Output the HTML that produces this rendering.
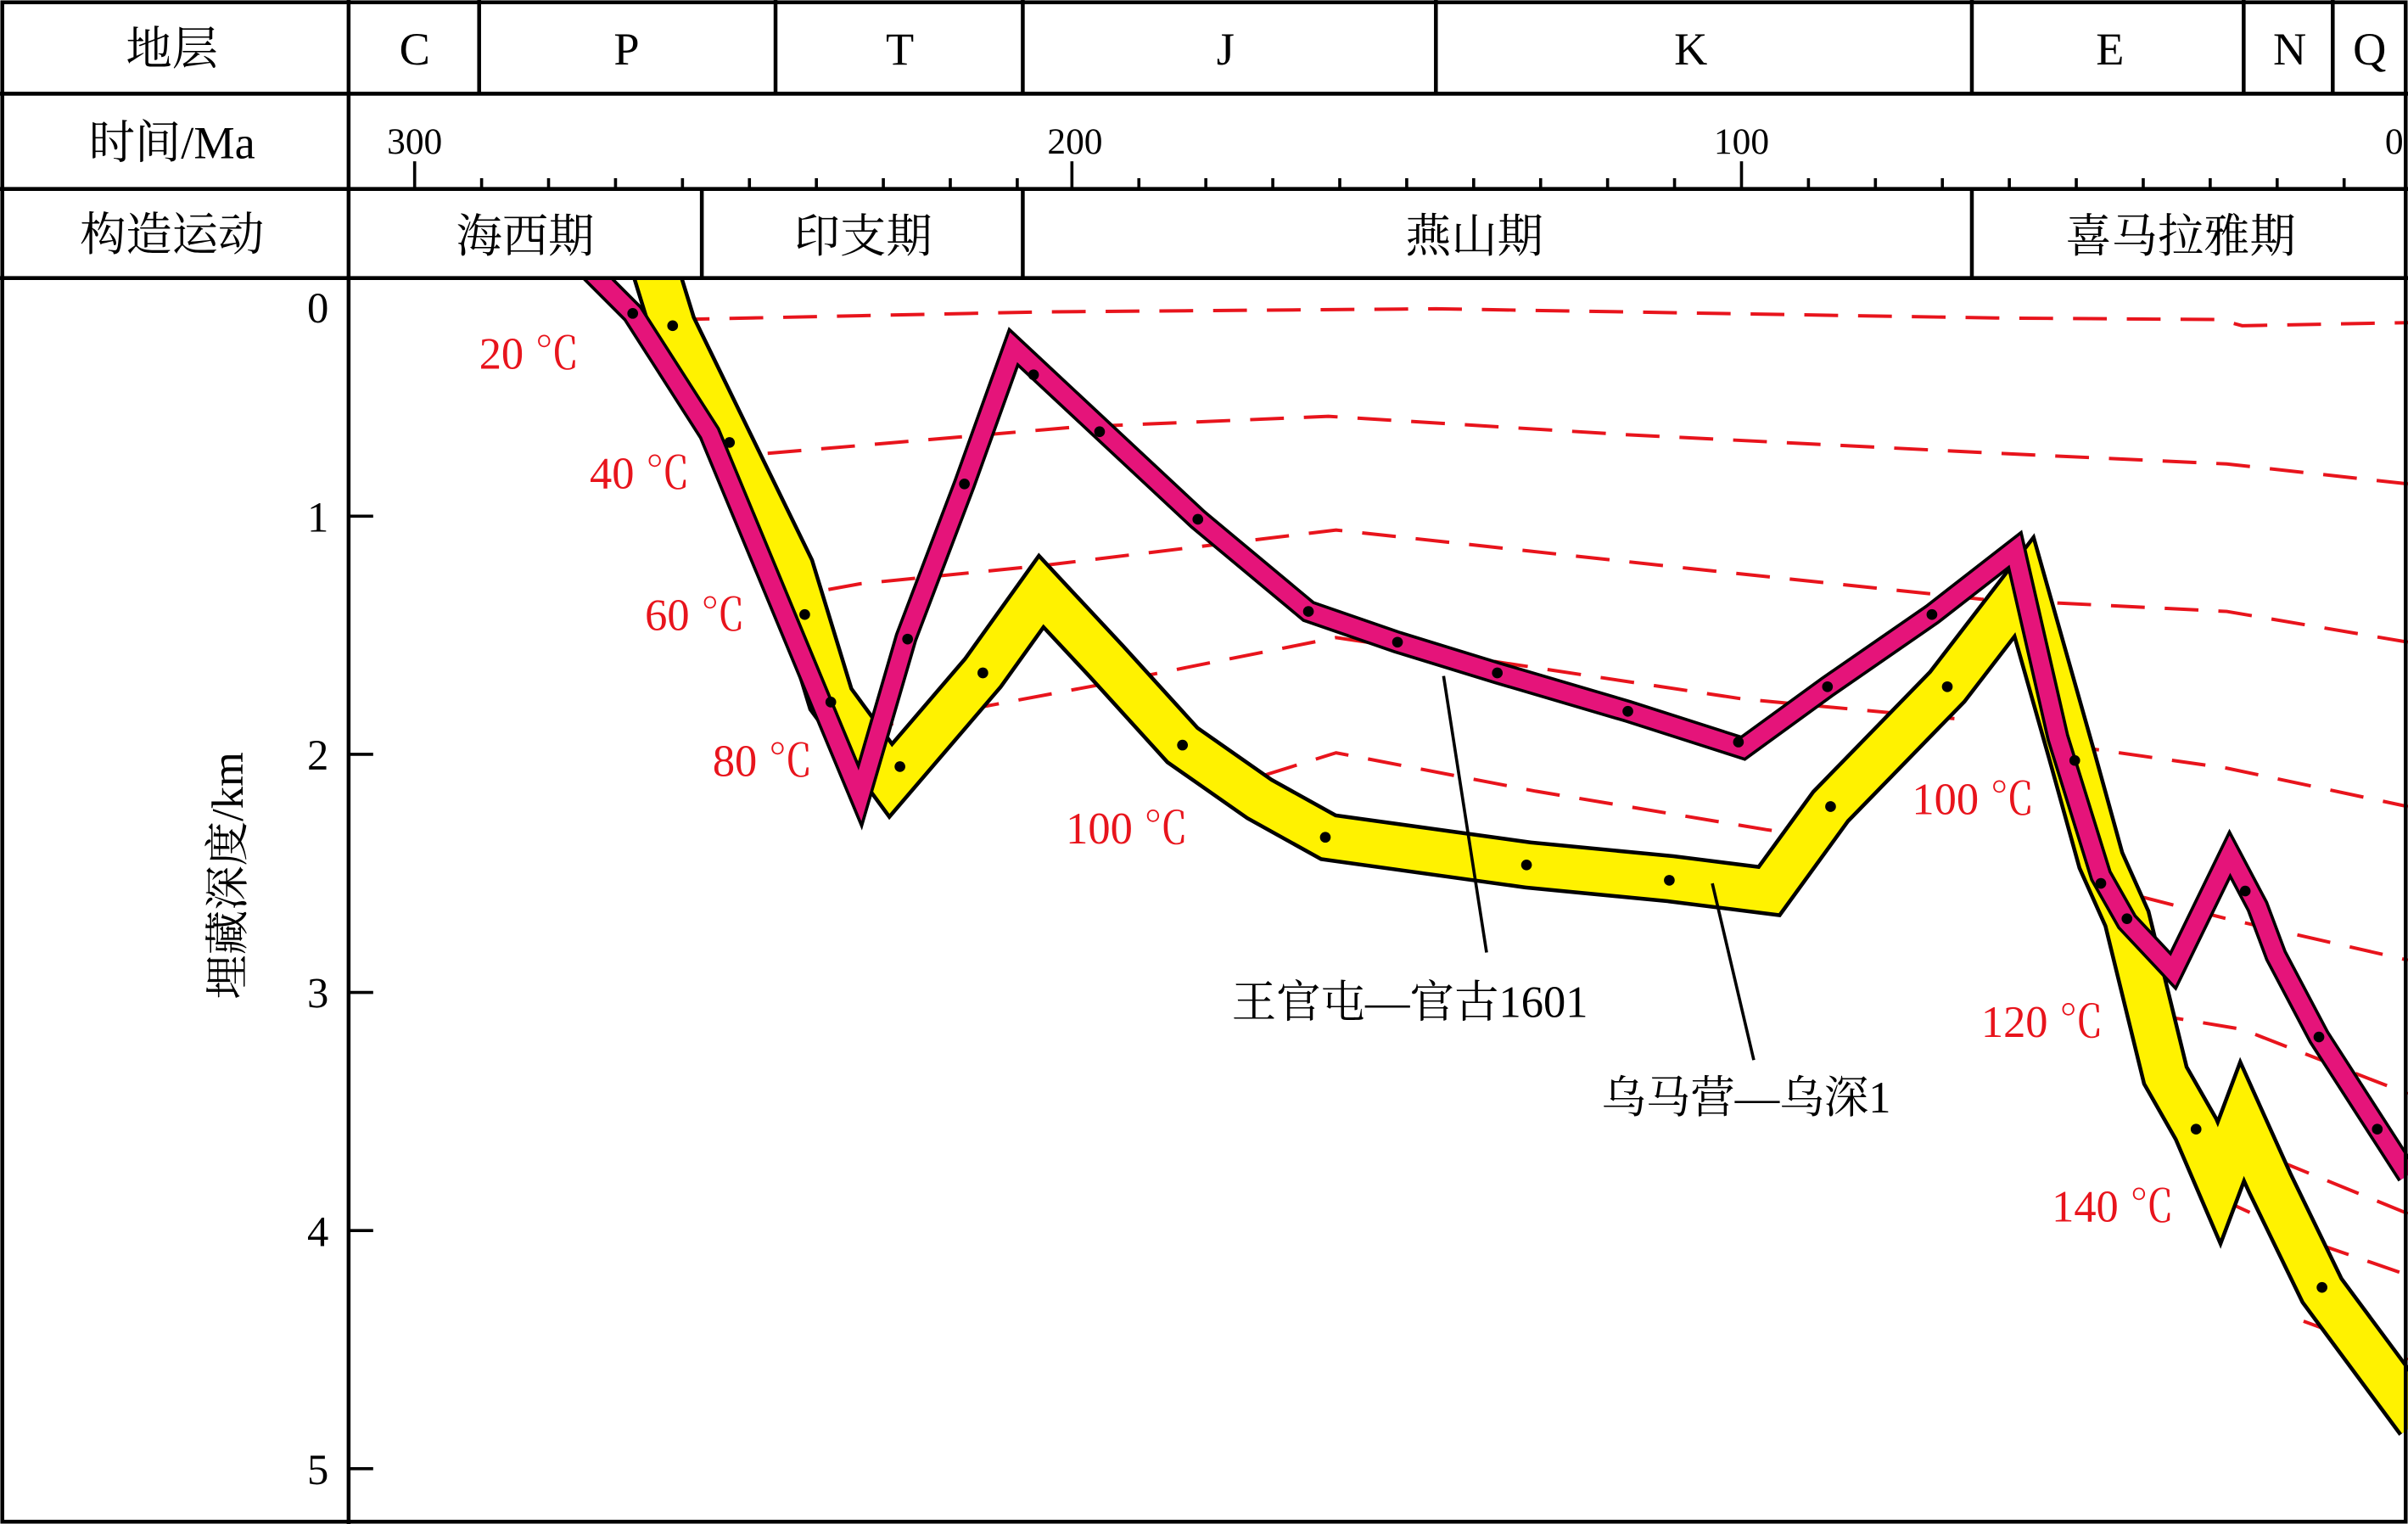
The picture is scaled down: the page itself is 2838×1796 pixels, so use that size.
<!DOCTYPE html>
<html><head><meta charset="utf-8"><style>
html,body{margin:0;padding:0;background:#fff;}
svg{display:block;}
.h{font-family:"Liberation Serif","Noto Serif CJK SC",serif;font-size:30px;fill:#000;text-anchor:middle;}
.t{font-family:"Liberation Serif",serif;font-size:24px;fill:#000;text-anchor:middle;}
.r{font-family:"Liberation Serif","Noto Serif CJK SC",serif;font-size:29px;fill:#e8141c;}
.iso{fill:none;stroke:#e8141c;stroke-width:2.2;stroke-dasharray:22,13;}
</style></head><body>
<svg width="2838" height="1796" viewBox="0 0 1568 992" preserveAspectRatio="none" xmlns="http://www.w3.org/2000/svg">
<rect x="0" y="0" width="1568" height="992" fill="#fff"/>
<polyline class="iso" points="440,208 680,203 935,201 1300,207 1445,208 1460,212 1568,210"/>
<polyline class="iso" points="465,298 560,290 700,278 865,271 1060,283 1300,295 1450,302 1568,315"/>
<polyline class="iso" points="505,390 560,380 680,368 870,345 1100,370 1290,390 1450,398 1568,418"/>
<polyline class="iso" points="560,475 720,445 870,415 1135,455 1275,468"/>
<polyline class="iso" points="1345,485 1450,500 1568,525"/>
<polyline class="iso" points="790,515 870,490 1000,515 1150,540 1185,545"/>
<polyline class="iso" points="1360,575 1450,598 1568,625"/>
<polyline class="iso" points="1400,660 1460,670 1568,712"/>
<polyline class="iso" points="1420,725 1470,750 1568,790"/>
<polyline class="iso" points="1445,780 1510,810 1568,830"/>
<polyline class="iso" points="1500,860 1568,885"/>
<g fill="none" stroke-linejoin="miter" stroke-miterlimit="3.5">
<polyline stroke="#000" stroke-width="32" points="425,170 438,212 475,288 515,370 541,455 580,508 640,438 678,385 720,430 770,485 820,520 865,545 995,563 1088,572 1152,580 1192,525 1268,447 1318,382 1350,495 1368,560 1385,598 1410,700 1430,735 1445,770 1460,730 1478,770 1512,840 1575,925"/>
<polyline stroke="#fff200" stroke-width="27" points="425,170 438,212 475,288 515,370 541,455 580,508 640,438 678,385 720,430 770,485 820,520 865,545 995,563 1088,572 1152,580 1192,525 1268,447 1318,382 1350,495 1368,560 1385,598 1410,700 1430,735 1445,770 1460,730 1478,770 1512,840 1575,925"/>
<polyline stroke="#000" stroke-width="15" points="380,172 412,204 462,282 540,470 560,518 590,415 628,315 660,226 780,338 852,398 910,418 975,438 1060,463 1135,487 1190,447 1258,400 1312,358 1340,480 1368,570 1385,600 1415,632 1452,556 1470,590 1482,622 1510,675 1568,765"/>
<polyline stroke="#e5147a" stroke-width="11" points="380,172 412,204 462,282 540,470 560,518 590,415 628,315 660,226 780,338 852,398 910,418 975,438 1060,463 1135,487 1190,447 1258,400 1312,358 1340,480 1368,570 1385,600 1415,632 1452,556 1470,590 1482,622 1510,675 1568,765"/>
</g>
<g fill="#000">
<circle cx="412" cy="204" r="3.5"/><circle cx="438" cy="212" r="3.5"/><circle cx="475" cy="288" r="3.5"/><circle cx="524" cy="400" r="3.5"/><circle cx="541" cy="457" r="3.5"/><circle cx="586" cy="499" r="3.5"/><circle cx="591" cy="416" r="3.5"/><circle cx="628" cy="315" r="3.5"/><circle cx="640" cy="438" r="3.5"/><circle cx="673" cy="244" r="3.5"/><circle cx="716" cy="281" r="3.5"/><circle cx="780" cy="338" r="3.5"/><circle cx="770" cy="485" r="3.5"/><circle cx="852" cy="398" r="3.5"/><circle cx="863" cy="545" r="3.5"/><circle cx="910" cy="418" r="3.5"/><circle cx="975" cy="438" r="3.5"/><circle cx="994" cy="563" r="3.5"/><circle cx="1060" cy="463" r="3.5"/><circle cx="1087" cy="573" r="3.5"/><circle cx="1132" cy="483" r="3.5"/><circle cx="1190" cy="447" r="3.5"/><circle cx="1192" cy="525" r="3.5"/><circle cx="1258" cy="400" r="3.5"/><circle cx="1268" cy="447" r="3.5"/><circle cx="1351" cy="495" r="3.5"/><circle cx="1368" cy="575" r="3.5"/><circle cx="1385" cy="598" r="3.5"/><circle cx="1430" cy="735" r="3.5"/><circle cx="1462" cy="580" r="3.5"/><circle cx="1510" cy="675" r="3.5"/><circle cx="1512" cy="838" r="3.5"/><circle cx="1548" cy="735" r="3.5"/>
</g>
<text class="r" x="312" y="240">20 ℃</text>
<text class="r" x="384" y="318">40 ℃</text>
<text class="r" x="420" y="410">60 ℃</text>
<text class="r" x="464" y="505">80 ℃</text>
<text class="r" x="694" y="549">100 ℃</text>
<text class="r" x="1245" y="530">100 ℃</text>
<text class="r" x="1290" y="675">120 ℃</text>
<text class="r" x="1336" y="795">140 ℃</text>
<line x1="940" y1="440" x2="968" y2="620" stroke="#000" stroke-width="2"/>
<line x1="1115" y1="575" x2="1142" y2="690" stroke="#000" stroke-width="2"/>
<text class="h" x="918" y="662" style="font-size:29px">王官屯—官古1601</text>
<text class="h" x="1137" y="724" style="font-size:29px">乌马营—乌深1</text>
<text class="h" transform="translate(158,570) rotate(-90)" style="font-size:29px">埋藏深度/km</text>
<g stroke="#000" stroke-width="2">
<line x1="227" y1="336" x2="243" y2="336"/><line x1="227" y1="491" x2="243" y2="491"/><line x1="227" y1="646" x2="243" y2="646"/><line x1="227" y1="801" x2="243" y2="801"/><line x1="227" y1="956" x2="243" y2="956"/>
</g>
<g class="h" style="font-size:28px">
<text x="207" y="210">0</text><text x="207" y="346">1</text><text x="207" y="501">2</text><text x="207" y="656">3</text><text x="207" y="811">4</text><text x="207" y="966">5</text>
</g>
<rect x="227" y="0" width="1341" height="181" fill="#fff"/>
<g stroke="#000" stroke-width="2.5" fill="none">
<rect x="1.5" y="1.5" width="1565" height="989"/>
<line x1="0" y1="61" x2="1568" y2="61"/><line x1="0" y1="123" x2="1568" y2="123"/><line x1="0" y1="181" x2="1568" y2="181"/>
<line x1="227" y1="0" x2="227" y2="992"/>
<line x1="312" y1="0" x2="312" y2="61"/><line x1="505" y1="0" x2="505" y2="61"/><line x1="666" y1="0" x2="666" y2="61"/><line x1="935" y1="0" x2="935" y2="61"/><line x1="1284" y1="0" x2="1284" y2="61"/><line x1="1461" y1="0" x2="1461" y2="61"/><line x1="1519" y1="0" x2="1519" y2="61"/>
<line x1="457" y1="123" x2="457" y2="181"/><line x1="666" y1="123" x2="666" y2="181"/><line x1="1284" y1="123" x2="1284" y2="181"/>
</g>
<g stroke="#000" stroke-width="2">
<line x1="270" y1="105" x2="270" y2="123"/><line x1="698" y1="105" x2="698" y2="123"/><line x1="1134" y1="105" x2="1134" y2="123"/>
<line x1="313.6" y1="116" x2="313.6" y2="123"/><line x1="357.2" y1="116" x2="357.2" y2="123"/><line x1="400.8" y1="116" x2="400.8" y2="123"/><line x1="444.4" y1="116" x2="444.4" y2="123"/><line x1="488" y1="116" x2="488" y2="123"/><line x1="531.6" y1="116" x2="531.6" y2="123"/><line x1="575.2" y1="116" x2="575.2" y2="123"/><line x1="618.8" y1="116" x2="618.8" y2="123"/><line x1="662.4" y1="116" x2="662.4" y2="123"/>
<line x1="741.6" y1="116" x2="741.6" y2="123"/><line x1="785.2" y1="116" x2="785.2" y2="123"/><line x1="828.8" y1="116" x2="828.8" y2="123"/><line x1="872.4" y1="116" x2="872.4" y2="123"/><line x1="916" y1="116" x2="916" y2="123"/><line x1="959.6" y1="116" x2="959.6" y2="123"/><line x1="1003.2" y1="116" x2="1003.2" y2="123"/><line x1="1046.8" y1="116" x2="1046.8" y2="123"/><line x1="1090.4" y1="116" x2="1090.4" y2="123"/>
<line x1="1177.6" y1="116" x2="1177.6" y2="123"/><line x1="1221.2" y1="116" x2="1221.2" y2="123"/><line x1="1264.8" y1="116" x2="1264.8" y2="123"/><line x1="1308.4" y1="116" x2="1308.4" y2="123"/><line x1="1352" y1="116" x2="1352" y2="123"/><line x1="1395.6" y1="116" x2="1395.6" y2="123"/><line x1="1439.2" y1="116" x2="1439.2" y2="123"/><line x1="1482.8" y1="116" x2="1482.8" y2="123"/><line x1="1526.4" y1="116" x2="1526.4" y2="123"/>
</g>
<text class="h" x="112" y="42">地层</text>
<text class="h" x="112" y="103">时间/Ma</text>
<text class="h" x="112" y="163">构造运动</text>
<text class="h" x="270" y="42">C</text><text class="h" x="408" y="42">P</text><text class="h" x="586" y="42">T</text><text class="h" x="798" y="42">J</text><text class="h" x="1101" y="42">K</text><text class="h" x="1374" y="42">E</text><text class="h" x="1491" y="42">N</text><text class="h" x="1543" y="42">Q</text>
<text class="t" x="270" y="100">300</text><text class="t" x="700" y="100">200</text><text class="t" x="1134" y="100">100</text><text class="t" x="1559" y="100">0</text>
<text class="h" x="342" y="164">海西期</text><text class="h" x="562" y="164">印支期</text><text class="h" x="960" y="164">燕山期</text><text class="h" x="1420" y="164">喜马拉雅期</text>
</svg>
</body></html>
